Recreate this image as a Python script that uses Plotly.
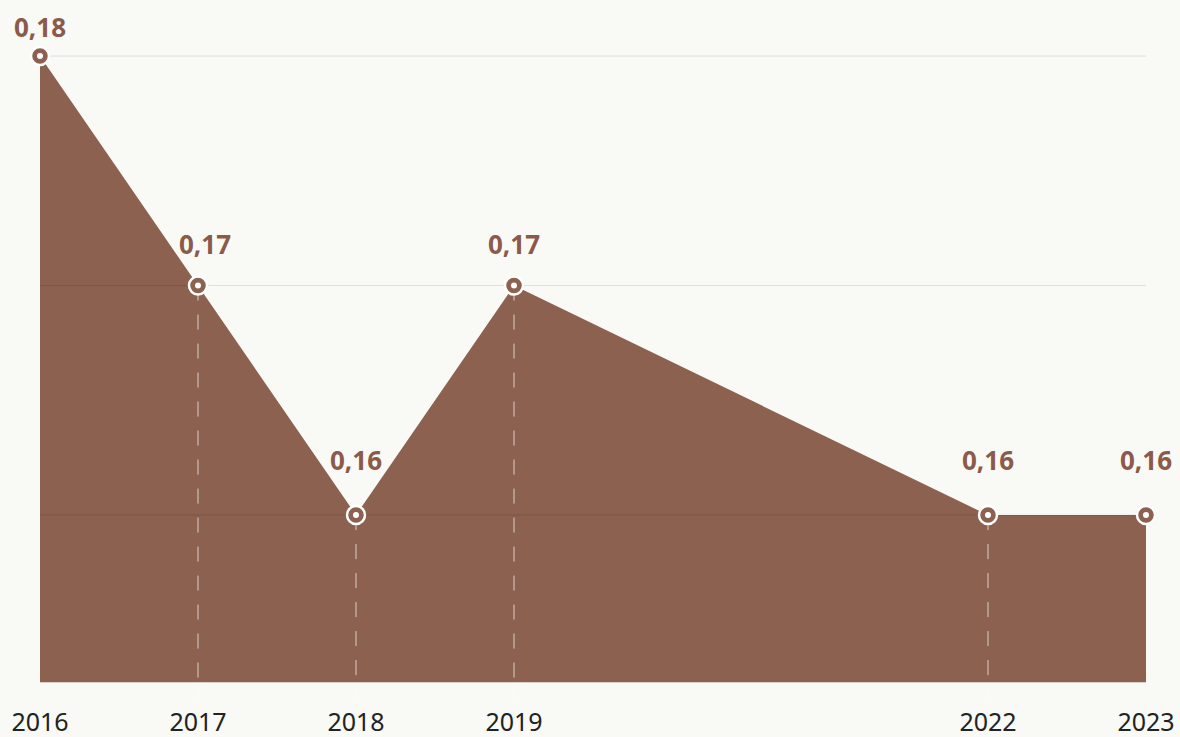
import plotly.graph_objects as go

years = [2016, 2017, 2018, 2019, 2022, 2023]
values = [0.18, 0.17, 0.16, 0.17, 0.16, 0.16]
labels = ["0,18", "0,17", "0,16", "0,17", "0,16", "0,16"]
grid_values = [0.16, 0.17, 0.18]
tick_years = [2016, 2017, 2018, 2019, 2022, 2023]
tick_text = ["2016", "2017", "2018", "2019", "2022", "2023"]

area_base = 0.15272
y_min = 0.15203
y_max = 0.18070

BROWN = "#8C6150"
LABEL = "#8B5A4A"
BG = "#F9F9F5"

fig = go.Figure()

# baseline for the filled area
fig.add_trace(go.Scatter(x=[years[0], years[-1]], y=[area_base, area_base], mode="lines",
                         line=dict(width=0, color=BROWN), hoverinfo="skip", showlegend=False))
fig.add_trace(go.Scatter(x=years, y=values, mode="lines", fill="tonexty", fillcolor=BROWN,
                         line=dict(width=0, color=BROWN), hoverinfo="skip", showlegend=False))

# gridlines above area
for g in grid_values:
    fig.add_trace(go.Scatter(x=[years[0], years[-1]], y=[g, g], mode="lines",
                             line=dict(width=1, color="rgba(0,0,0,0.11)"),
                             hoverinfo="skip", showlegend=False))

# dashed drop lines for interior points
for xv, yv in zip(years[1:-1], values[1:-1]):
    fig.add_trace(go.Scatter(x=[xv, xv], y=[yv, y_min], mode="lines",
                             line=dict(width=1, color="rgba(255,255,255,0.7)", dash="15px,14px"),
                             hoverinfo="skip", showlegend=False))

# markers
fig.add_trace(go.Scatter(x=years, y=values, mode="markers",
                         marker=dict(size=18, color=BROWN, line=dict(color="white", width=2.5)),
                         cliponaxis=False, hoverinfo="skip", showlegend=False))
fig.add_trace(go.Scatter(x=years, y=values, mode="markers",
                         marker=dict(size=6, color="white", line=dict(width=0)),
                         cliponaxis=False, hoverinfo="skip", showlegend=False))

# value labels (offset grows slightly as the value decreases, as in the source)
top_val = max(values)
for i, (xv, yv, lab) in enumerate(zip(years, values, labels)):
    yshift = 29 + 1300 * (top_val - yv)
    xshift = 7 if i == 1 else 0
    fig.add_annotation(x=xv, y=yv, text=lab, showarrow=False, yshift=yshift, xshift=xshift,
                       xanchor="center", yanchor="middle",
                       font=dict(family="Noto Sans", size=26, color=LABEL, weight="bold"))

fig.update_layout(
    width=1180, height=737,
    paper_bgcolor=BG, plot_bgcolor=BG,
    margin=dict(l=40, r=34, t=40, b=39, autoexpand=False),
    xaxis=dict(range=[2016, 2023], tickvals=tick_years, ticktext=tick_text,
               showgrid=False, zeroline=False, showline=False, automargin=False,
               ticks="outside", ticklen=2, tickcolor="rgba(0,0,0,0)",
               tickfont=dict(family="Noto Sans", size=25, color="#222222")),
    yaxis=dict(range=[y_min, y_max], showgrid=False, zeroline=False, automargin=False,
               showticklabels=False, showline=False),
    font=dict(family="Noto Sans"),
)

fig.write_html("out.html", config={"displayModeBar": False},
               post_script="document.body.style.margin='0';document.body.style.background='%s';" % BG)
